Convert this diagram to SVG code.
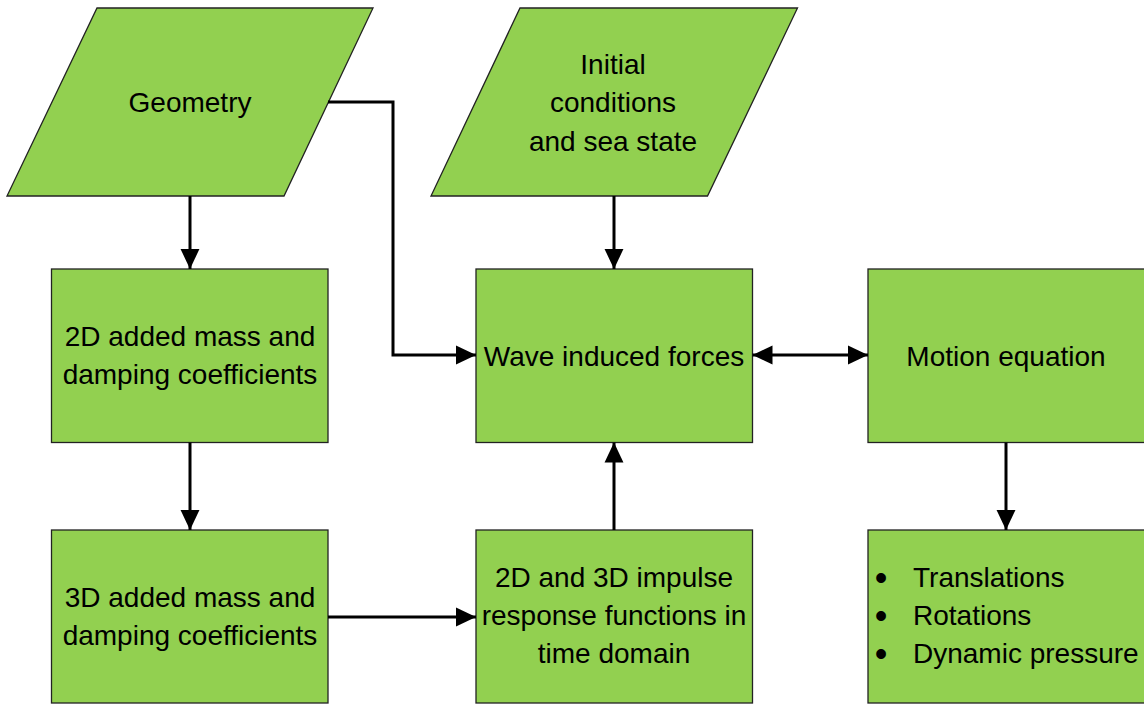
<svg xmlns="http://www.w3.org/2000/svg" width="1144" height="704" viewBox="0 0 1144 704">
<style>
.n{fill:#92D050;stroke:#222;stroke-width:1.3}
.t{font-family:"Liberation Sans",Arial,sans-serif;font-size:28px;fill:#000;text-anchor:middle}
.l{font-family:"Liberation Sans",Arial,sans-serif;font-size:28px;fill:#000}
.b{font-family:"Liberation Sans",Arial,sans-serif;font-size:36px;fill:#000;text-anchor:middle}
.c{fill:none;stroke:#000;stroke-width:3}
</style>
<defs>
<marker id="a" markerUnits="userSpaceOnUse" markerWidth="20" markerHeight="20" viewBox="0 0 18 18" refX="18" refY="9" orient="auto-start-reverse">
<path d="M0,0.5 L18,9 L0,17.5 Z" fill="#000"/>
</marker>
</defs>
<rect width="1144" height="704" fill="#fff"/>
<g id="geometry">
<polygon class="n" points="97,8 373,8 284,196 7,196"/>
<text class="t" x="190" y="112">Geometry</text>
</g>
<g id="initial">
<polygon class="n" points="520,8 797.5,8 707.5,196 431,196"/>
<text class="t" x="613" y="74">Initial</text>
<text class="t" x="613" y="112">conditions</text>
<text class="t" x="613" y="150.5">and sea state</text>
</g>
<g id="added2d">
<rect class="n" x="51.5" y="269" width="276.5" height="173.5"/>
<text class="t" x="190" y="346">2D added mass and</text>
<text class="t" x="190" y="384">damping coefficients</text>
</g>
<g id="wave">
<rect class="n" x="476" y="269" width="276.5" height="173.5"/>
<text class="t" x="614" y="366">Wave induced forces</text>
</g>
<g id="motion">
<rect class="n" x="868" y="269" width="280" height="173.5"/>
<text class="t" x="1006" y="366">Motion equation</text>
</g>
<g id="added3d">
<rect class="n" x="51.5" y="530" width="276.5" height="173"/>
<text class="t" x="190" y="607">3D added mass and</text>
<text class="t" x="190" y="645">damping coefficients</text>
</g>
<g id="impulse">
<rect class="n" x="476" y="530" width="276.5" height="173"/>
<text class="t" x="614" y="587">2D and 3D impulse</text>
<text class="t" x="614" y="625">response functions in</text>
<text class="t" x="614" y="663">time domain</text>
</g>
<g id="results">
<rect class="n" x="868" y="530" width="280" height="173"/>
<text class="b" x="881" y="590">•</text>
<text class="b" x="881" y="628">•</text>
<text class="b" x="881" y="666">•</text>
<text class="l" x="913" y="587">Translations</text>
<text class="l" x="913" y="625">Rotations</text>
<text class="l" x="913" y="663">Dynamic pressure</text>
</g>
<g id="connectors">
<line class="c" x1="190" y1="196" x2="190" y2="269" marker-end="url(#a)"/>
<line class="c" x1="190" y1="442.5" x2="190" y2="530" marker-end="url(#a)"/>
<line class="c" x1="614" y1="196" x2="614" y2="269" marker-end="url(#a)"/>
<polyline class="c" points="328,102 393,102 393,355 476,355" marker-end="url(#a)"/>
<line class="c" x1="752.5" y1="355" x2="868" y2="355" marker-start="url(#a)" marker-end="url(#a)"/>
<line class="c" x1="328" y1="617" x2="476" y2="617" marker-end="url(#a)"/>
<line class="c" x1="614" y1="530" x2="614" y2="442.5" marker-end="url(#a)"/>
<line class="c" x1="1006" y1="442.5" x2="1006" y2="530" marker-end="url(#a)"/>
</g>
</svg>
